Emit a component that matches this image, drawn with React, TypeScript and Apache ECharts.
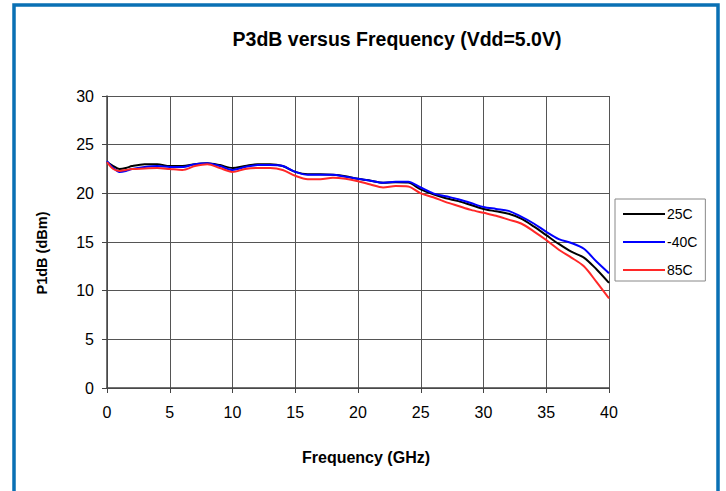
import React, { useEffect, useRef } from "react";
import * as echarts from "echarts";

const freq = [0, 0.5, 1, 1.5, 2, 3, 4, 5, 6, 7, 8, 9, 10, 11, 12, 13, 14, 15, 16, 17, 18, 19, 20, 21, 22, 23, 24, 25, 26, 27, 28, 29, 30, 31, 32, 33, 34, 35, 36, 37, 38, 39, 40];
const t25 = [23.2, 22.8, 22.5, 22.6, 22.8, 23.0, 23.0, 22.8, 22.8, 23.0, 23.1, 22.9, 22.6, 22.8, 23.0, 23.0, 22.8, 22.2, 21.95, 21.95, 21.9, 21.75, 21.5, 21.3, 21.1, 21.15, 21.1, 20.4, 19.9, 19.5, 19.2, 18.8, 18.4, 18.15, 17.9, 17.4, 16.6, 15.7, 14.8, 14.0, 13.4, 12.2, 10.8];
const tm40 = [23.3, 22.6, 22.2, 22.3, 22.5, 22.7, 22.8, 22.7, 22.7, 23.0, 23.1, 22.8, 22.4, 22.7, 22.9, 22.9, 22.8, 22.2, 21.9, 21.9, 21.9, 21.7, 21.5, 21.3, 21.1, 21.2, 21.2, 20.6, 20.0, 19.7, 19.4, 19.0, 18.6, 18.4, 18.2, 17.6, 16.9, 16.05, 15.3, 14.9, 14.3, 13.0, 11.8];
const t85 = [23.2, 22.5, 22.3, 22.4, 22.5, 22.55, 22.6, 22.5, 22.4, 22.8, 23.0, 22.6, 22.2, 22.5, 22.6, 22.6, 22.4, 21.8, 21.45, 21.45, 21.6, 21.5, 21.25, 20.9, 20.6, 20.75, 20.7, 20.0, 19.6, 19.1, 18.7, 18.3, 18.0, 17.7, 17.3, 16.9, 16.1, 15.2, 14.2, 13.4, 12.5, 10.9, 9.2];

const seriesNames = ["25C", "-40C", "85C"];
const seriesColors = ["#000000", "#0000ff", "#ff2828"];
const seriesValues = [t25, tm40, t85];

const FONT = "Arial, 'Liberation Sans', sans-serif";

export default function App() {
  const ref = useRef<HTMLDivElement>(null);
  useEffect(() => {
    document.body.style.margin = "0";
    const chart = echarts.init(ref.current!, null, { renderer: "svg" });
    chart.setOption({
      animation: false,
      backgroundColor: "#ffffff",
      grid: { left: 107, right: 117, top: 96, bottom: 103 },
      legend: {
        orient: "vertical",
        left: 615,
        top: 199,
        data: seriesNames.map((n) => ({ name: n, icon: "rect" })),
        itemWidth: 42,
        itemHeight: 2,
        itemGap: 14,
        padding: [8, 8, 4, 8],
        borderColor: "#888",
        borderWidth: 1,
        textStyle: { fontFamily: FONT, fontSize: 14, color: "#000", padding: [0, 0, 0, -3] },
      },
      xAxis: {
        type: "value",
        min: 0,
        max: 40,
        interval: 5,
        axisLine: { onZero: false, lineStyle: { color: "#444", width: 1.5 } },
        axisTick: { show: true, length: 5, lineStyle: { color: "#444" } },
        axisLabel: { fontFamily: FONT, fontSize: 16, color: "#000", margin: 16 },
        splitLine: { show: true, lineStyle: { color: "#555", width: 1 } },
      },
      yAxis: {
        type: "value",
        min: 0,
        max: 30,
        interval: 5,
        axisLine: { show: true, lineStyle: { color: "#444", width: 1.5 } },
        axisTick: { show: true, length: 5, lineStyle: { color: "#444" } },
        axisLabel: { fontFamily: FONT, fontSize: 16, color: "#000", margin: 13 },
        splitLine: { show: true, lineStyle: { color: "#555", width: 1 } },
      },
      graphic: [
        {
          type: "rect",
          shape: { x: 14, y: 5, width: 704, height: 520 },
          style: { fill: "none", stroke: "#0a70b4", lineWidth: 3.5 },
          silent: true,
        },
        {
          type: "text",
          x: 397,
          y: 39,
          style: {
            text: "P3dB versus Frequency (Vdd=5.0V)",
            fontFamily: FONT,
            fontSize: 19.5,
            fontWeight: "bold",
            fill: "#000",
            align: "center",
            verticalAlign: "middle",
          },
        },
        {
          type: "text",
          x: 42,
          y: 253,
          rotation: Math.PI / 2,
          style: {
            text: "P1dB (dBm)",
            fontFamily: FONT,
            fontSize: 14.5,
            fontWeight: "bold",
            fill: "#000",
            align: "center",
            verticalAlign: "middle",
          },
        },
        {
          type: "text",
          x: 366,
          y: 457,
          style: {
            text: "Frequency (GHz)",
            fontFamily: FONT,
            fontSize: 16,
            fontWeight: "bold",
            fill: "#000",
            align: "center",
            verticalAlign: "middle",
          },
        },
      ],
      series: seriesNames.map((name, i) => ({
        name,
        type: "line",
        data: freq.map((f, j) => [f, seriesValues[i][j]]),
        showSymbol: false,
        symbol: "none",
        smooth: 0.3,
        lineStyle: { color: seriesColors[i], width: 2 },
        itemStyle: { color: seriesColors[i] },
      })),
    });
    return () => chart.dispose();
  }, []);
  return <div ref={ref} style={{ position: "fixed", left: 0, top: 0, width: 726, height: 491 }} />;
}
